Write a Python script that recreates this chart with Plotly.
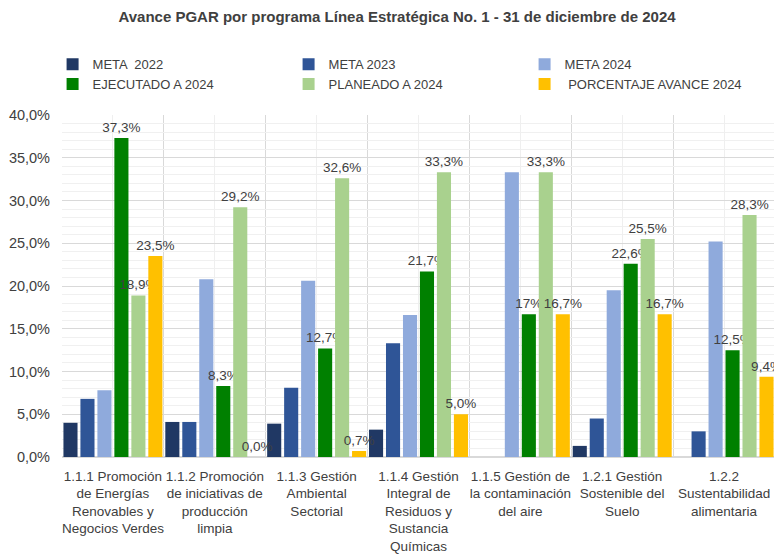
import plotly.graph_objects as go

categories = [
    "1.1.1 Promoción<br>de Energías<br>Renovables y<br>Negocios Verdes",
    "1.1.2 Promoción<br>de iniciativas de<br>producción<br>limpia",
    "1.1.3 Gestión<br>Ambiental<br>Sectorial",
    "1.1.4 Gestión<br>Integral de<br>Residuos y<br>Sustancia<br>Químicas",
    "1.1.5 Gestión de<br>la contaminación<br>del aire",
    "1.2.1 Gestión<br>Sostenible del<br>Suelo",
    "1.2.2<br>Sustentabilidad<br>alimentaria",
]

meta_2022 = [4.0, 4.1, 3.9, 3.2, 0.0, 1.3, 0.0]
meta_2023 = [6.8, 4.1, 8.1, 13.3, 0.0, 4.5, 3.0]
meta_2024 = [7.8, 20.8, 20.6, 16.6, 33.3, 19.5, 25.2]
ejecutado = [37.3, 8.3, 12.7, 21.7, 16.7, 22.6, 12.5]
planeado = [18.9, 29.2, 32.6, 33.3, 33.3, 25.5, 28.3]
porcentaje = [23.5, 0.0, 0.7, 5.0, 16.7, 16.7, 9.4]

ejecutado_labels = ["37,3%", "8,3%", "12,7%", "21,7%", "17%", "22,6%", "12,5%"]

y_ticks = [0, 5, 10, 15, 20, 25, 30, 35, 40]

FONT = "Liberation Sans Narrow, Arial Narrow, Liberation Sans, Arial, sans-serif"
TXT = "#404040"


def pct(v):
    return f"{v:.1f}".replace(".", ",") + "%"


series = [
    ("META  2022", meta_2022, "#203864", None),
    ("META 2023", meta_2023, "#2F5597", None),
    ("META 2024", meta_2024, "#8FAADC", None),
    ("EJECUTADO A 2024", ejecutado, "#008000", ejecutado_labels),
    ("PLANEADO A 2024", planeado, "#A9D18E", [pct(v) for v in planeado]),
    (" PORCENTAJE AVANCE 2024", porcentaje, "#FFC000", [pct(v) for v in porcentaje]),
]

xs = list(range(len(categories)))

fig = go.Figure()
for name, vals, color, labels in series:
    fig.add_trace(go.Bar(
        name=name,
        x=xs,
        y=[v / 100 for v in vals],
        marker=dict(color=color, line=dict(width=0)),
        text=labels,
        textposition="outside" if labels else "none",
        textfont=dict(family=FONT, size=13.5, color=TXT),
        constraintext="none",
        cliponaxis=False,
        hoverinfo="skip",
    ))

fig.update_layout(
    width=774,
    height=552,
    barmode="group",
    bargap=0.0,
    bargroupgap=0.17,
    separators=",.",
    plot_bgcolor="white",
    paper_bgcolor="white",
    font=dict(family=FONT, size=13.5, color=TXT),
    margin=dict(l=54, r=7, t=107, b=103),
    title=dict(
        text="<b>Avance PGAR por programa Línea Estratégica No. 1 - 31 de diciembre de 2024</b>",
        x=0.5026, xanchor="center", y=0.984, yanchor="middle",
        font=dict(family=FONT, size=15, color=TXT),
    ),
    legend=dict(
        orientation="h",
        x=0.0576, xref="container", xanchor="left",
        y=0.88, yref="container", yanchor="middle",
        entrywidth=191, entrywidthmode="pixels",
        font=dict(family=FONT, size=13, color=TXT),
        itemwidth=30,
        tracegroupgap=0,
        traceorder="normal",
    ),
    showlegend=True,
)

fig.update_xaxes(
    range=[-0.5, len(categories) - 0.5],
    tickvals=xs,
    ticktext=categories,
    tickangle=0,
    automargin=False,
    showgrid=True,
    gridcolor="#EFEFEF",
    gridwidth=1,
    zeroline=False,
    showline=False,
    ticks="",
    ticklabelstandoff=9,
    tickfont=dict(family=FONT, size=13.5, color=TXT),
    minor=dict(tick0=-0.5, dtick=1, showgrid=True, gridcolor="#D9D9D9", gridwidth=1, ticks=""),
)

fig.update_yaxes(
    range=[0, 0.40],
    tickvals=[t / 100 for t in y_ticks],
    tickformat=".1%",
    automargin=False,
    showgrid=True,
    gridcolor="#D9D9D9",
    gridwidth=1,
    zeroline=True,
    zerolinecolor="#D9D9D9",
    showline=False,
    ticks="",
    ticklabelstandoff=11,
    tickfont=dict(family=FONT, size=14.5, color=TXT),
    minor=dict(dtick=0.01, showgrid=True, gridcolor="#F0F0F0", gridwidth=1, ticks=""),
)

fig.write_html("out.html")
